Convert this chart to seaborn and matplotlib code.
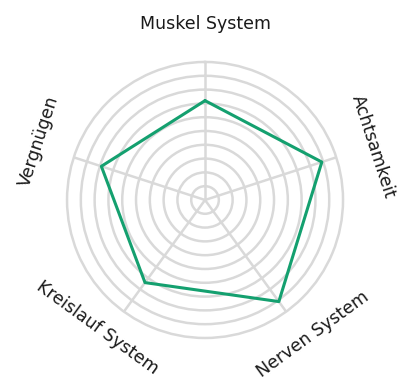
import numpy as np
import pandas as pd
import matplotlib.pyplot as plt
import seaborn as sns

# Categories and scores (0-10 scale)
categories = ["Muskel System", "Achtsamkeit", "Nerven System", "Kreislauf System", "Vergnügen"]
scores = [7.2, 8.9, 9.1, 7.4, 7.9]

sns.set_style("white")
plt.rcParams["font.family"] = ["DejaVu Sans"]

n = len(categories)
angles = np.arange(n) * 2 * np.pi / n

# close the polygon (last point = first point, one full turn later)
df = pd.DataFrame({"angle": list(angles) + [2 * np.pi], "score": scores + [scores[0]]})

fig = plt.figure(figsize=(3.98, 3.86), dpi=100)
ax = fig.add_axes([0.1684, 0.1244, 0.6935, 0.715], projection="polar")
ax.set_theta_offset(np.pi / 2)
ax.set_theta_direction(-1)

grid_col = "#d9d9d9"
sns.lineplot(data=df, x="angle", y="score", sort=False, estimator=None, color="#14a06f",
             linewidth=2.2, ax=ax, solid_joinstyle="round", zorder=5)

ax.set_ylim(0, 10)
ax.set_yticks(np.arange(1, 10))
ax.set_yticklabels([])
ax.set_xticks(angles)
ax.set_xticklabels([])
ax.grid(True, color=grid_col, linewidth=1.8)
ax.spines["polar"].set_color(grid_col)
ax.spines["polar"].set_linewidth(1.8)
ax.set_xlabel("")
ax.set_ylabel("")

# labels rotated tangentially
rotations = [0, -72, 36, -36, 72]
label_r = [12.75, 12.8, 12.5, 12.1, 12.75]
label_shift = [0, 0.5, -2.7, 4, 1.5]  # degrees, to mimic curved text placement
for ang, lab, rot, r, sh in zip(angles, categories, rotations, label_r, label_shift):
    ax.text(ang + np.deg2rad(sh), r, lab, rotation=rot, rotation_mode="anchor",
            ha="center", va="center", fontsize=12.5, color="#1a1a1a")

fig.savefig("out.png", dpi=100)
